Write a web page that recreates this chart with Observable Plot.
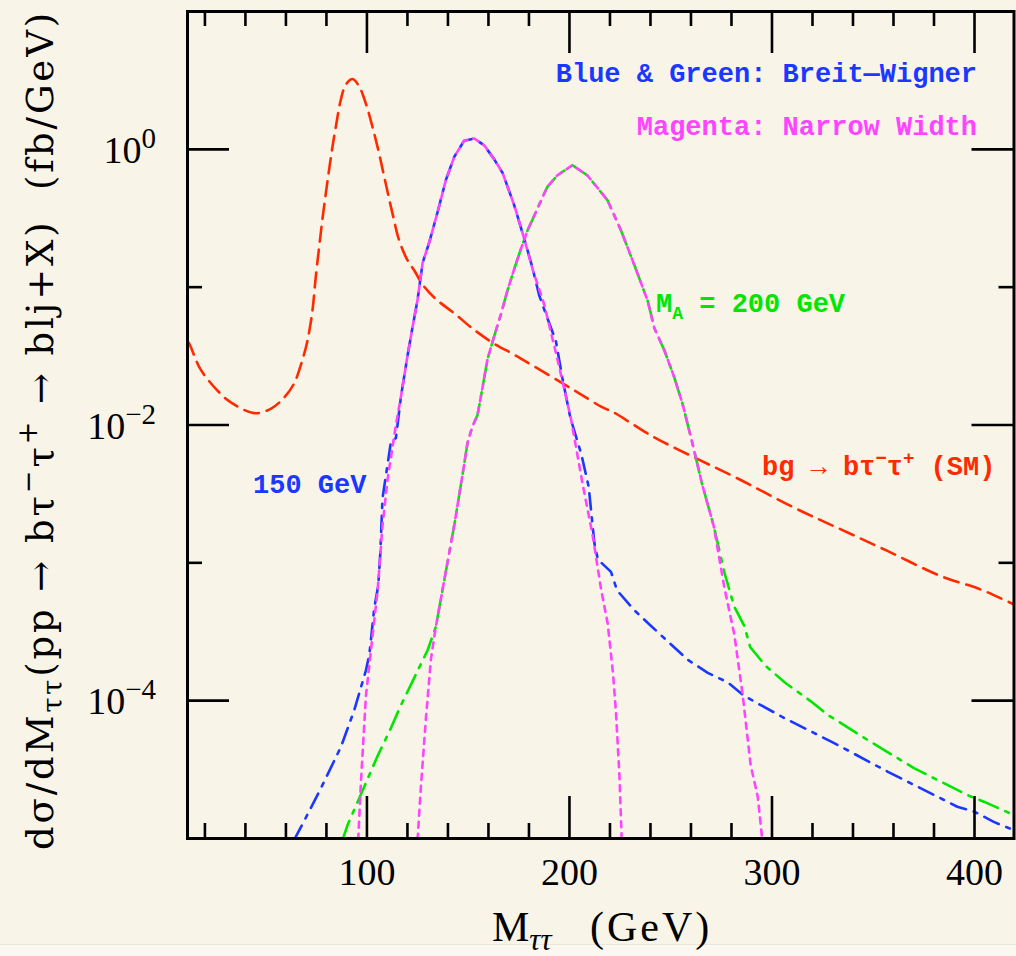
<!DOCTYPE html>
<html>
<head>
<meta charset="utf-8">
<script src="https://cdn.jsdelivr.net/npm/d3@7"></script>
<script src="https://cdn.jsdelivr.net/npm/@observablehq/plot@0.6"></script>
<style>
html, body { margin: 0; padding: 0; background: #f8f4e8; }
body { width: 1016px; height: 956px; overflow: hidden; position: relative; }
#band { position: absolute; left: 0; top: 944px; width: 1016px; height: 12px; background: #faf8f1; border-top: 1px solid #ebe6da; }
#chart { position: absolute; left: 0; top: 0; }
</style>
</head>
<body>
<div id="band"></div>
<div id="chart"></div>
<script>
// ---------------- data ----------------
// SM background bg -> b tau tau (red dashed)
const smMass = [11.4, 12.3, 18, 27.8, 32.8, 44.3, 52.5, 59.1, 64, 68.1, 70.6, 73.1, 74.7, 76.4, 78, 79.7, 81.3, 83, 84.6, 87.1, 89.6, 92.9, 96.2, 99.4, 102.7, 106, 109.3, 112.6, 115.9, 120, 123.4, 127.4, 133.2, 143.1, 153, 162.8, 172.7, 182.6, 195.8, 205.6, 215.6, 222, 240.3, 260, 282, 311, 334, 357, 383.3, 403, 416, 419.4];
const smValue = [0.0407, 0.0389, 0.0251, 0.0168, 0.0146, 0.0122, 0.0131, 0.0158, 0.0200, 0.0295, 0.0407, 0.0676, 0.1175, 0.195, 0.309, 0.479, 0.708, 1.047, 1.445, 2.291, 2.951, 3.236, 2.851, 2.163, 1.462, 0.933, 0.562, 0.343, 0.219, 0.157, 0.132, 0.105, 0.0841, 0.0646, 0.0490, 0.0389, 0.0324, 0.0266, 0.0204, 0.0167, 0.0136, 0.0123, 0.00838, 0.00597, 0.00417, 0.00251, 0.00175, 0.00122, 0.000802, 0.000641, 0.000527, 0.000501];

// Breit-Wigner, M_A = 150 GeV (blue dash-dot)
const bw150Mass = [64.1, 69.1, 77.3, 87.2, 93.8, 99.5, 101.2, 103.6, 105.6, 106.6, 107.7, 111.8, 114.3, 116.8, 120.1, 122.5, 125, 127.5, 130.8, 134.9, 139, 143.1, 148, 153, 157.9, 162.8, 167, 172.7, 177.5, 181.7, 185, 189.1, 193.3, 196.5, 200.5, 206, 209.5, 212.3, 214, 220.5, 223.5, 232.1, 240.3, 258.4, 268.3, 278.1, 286.4, 306.1, 330.7, 357, 380, 391.5, 399.7, 409.5, 419.4];
const bw150Value = [9.8e-6, 1.35e-5, 2.32e-5, 4.63e-5, 8.59e-5, 1.66e-4, 2.16e-4, 4.68e-4, 6.85e-4, 1.175e-3, 2.95e-3, 7.46e-3, 8.05e-3, 1.61e-2, 3.22e-2, 5.11e-2, 8.11e-2, 0.150, 0.212, 0.351, 0.600, 0.881, 1.156, 1.199, 1.069, 0.849, 0.673, 0.394, 0.229, 0.139, 8.77e-2, 5.96e-2, 4.06e-2, 2.19e-2, 1.12e-2, 6.03e-3, 3.55e-3, 1.39e-3, 1.06e-3, 8.59e-4, 6.31e-4, 4.52e-4, 3.48e-4, 1.98e-4, 1.59e-4, 1.36e-4, 1.08e-4, 7.48e-5, 4.92e-5, 3.06e-5, 2.07e-5, 1.70e-5, 1.57e-5, 1.32e-5, 1.15e-5];

// Narrow width, 150 GeV (magenta dotted)
const nw150Mass = [95.7, 97.0, 99.5, 102, 105.3, 107.7, 110.2, 114.3, 116.8, 120.1, 122.5, 125, 127.5, 130.8, 134.9, 139, 143.1, 148, 153, 157.9, 162.8, 167, 172.7, 177.5, 182, 187.5, 194.1, 200.7, 206.5, 211.4, 215.6, 218.9, 221.5, 223.0, 224.7, 225.8];
const nw150Value = [9.8e-6, 2.51e-5, 1.08e-4, 2.33e-4, 6.35e-4, 1.87e-3, 4.03e-3, 1.0e-2, 1.61e-2, 3.22e-2, 5.11e-2, 8.11e-2, 0.150, 0.212, 0.351, 0.600, 0.881, 1.156, 1.199, 1.069, 0.849, 0.673, 0.394, 0.229, 0.132, 7.52e-2, 2.99e-2, 1.12e-2, 3.72e-3, 1.60e-3, 6.46e-4, 3.61e-4, 1.585e-4, 8.09e-5, 2.83e-5, 9.8e-6];

// Breit-Wigner, M_A = 200 GeV (green dash-dot)
const bw200Mass = [88, 90.5, 95.4, 100.3, 105.3, 111.8, 116.8, 123.4, 130, 134, 136.5, 139.8, 143.1, 147.2, 149.7, 152.1, 154.6, 157.1, 159.5, 162.8, 166.1, 169.4, 172.7, 176, 179.3, 184.2, 189.1, 194.1, 201.5, 208.9, 218.8, 225.4, 232.1, 238.7, 241.9, 246.9, 251.8, 255.9, 260.9, 265.5, 271.2, 276.5, 281.4, 286.4, 289.2, 297, 306.5, 319.2, 327.4, 347.1, 370.1, 396.4, 404.6, 419.4];
const bw200Value = [9.8e-6, 1.26e-5, 1.84e-5, 2.70e-5, 3.98e-5, 6.31e-5, 9.27e-5, 1.47e-4, 2.33e-4, 3.43e-4, 5.45e-4, 1.01e-3, 1.87e-3, 4.36e-3, 7.46e-3, 9.77e-3, 1.18e-2, 1.88e-2, 2.99e-2, 4.39e-2, 6.31e-2, 9.46e-2, 0.135, 0.189, 0.258, 0.372, 0.535, 0.649, 0.767, 0.646, 0.427, 0.259, 0.144, 7.89e-2, 5.05e-2, 3.47e-2, 2.21e-2, 1.41e-2, 7.19e-3, 3.72e-3, 1.86e-3, 8.51e-4, 4.79e-4, 3.47e-4, 2.45e-4, 1.78e-4, 1.35e-4, 9.89e-5, 7.91e-5, 5.20e-5, 3.24e-5, 2.07e-5, 1.85e-5, 1.48e-5];

// Narrow width, 200 GeV (magenta dotted)
const nw200Mass = [125, 126.6, 129.1, 131.6, 134, 136.5, 139.8, 143.1, 147.2, 149.7, 152.1, 154.6, 157.1, 159.5, 162.8, 166.1, 169.4, 172.7, 176, 179.3, 184.2, 189.1, 194.1, 201.5, 208.9, 218.8, 225.4, 232.1, 238.7, 241.9, 246.9, 251.8, 255.9, 260.9, 265.5, 271.2, 276.5, 281.4, 285.5, 289.5, 293, 295.2];
const nw200Value = [9.8e-6, 2.32e-5, 7.36e-5, 2.00e-4, 3.43e-4, 5.45e-4, 1.01e-3, 1.87e-3, 4.36e-3, 7.46e-3, 9.77e-3, 1.18e-2, 1.88e-2, 2.99e-2, 4.39e-2, 6.31e-2, 9.46e-2, 0.135, 0.189, 0.258, 0.372, 0.535, 0.649, 0.767, 0.646, 0.427, 0.259, 0.144, 7.89e-2, 5.05e-2, 3.47e-2, 2.21e-2, 1.41e-2, 7.19e-3, 3.72e-3, 1.86e-3, 6.61e-4, 3.02e-4, 1.11e-4, 3.39e-5, 2.00e-5, 9.8e-6];

// ticks and labels
const xMajorTicks = [100, 200, 300, 400];
const xMinorTicks = [20, 40, 60, 80, 120, 140, 160, 180, 220, 240, 260, 280, 320, 340, 360, 380];
const yMajorTicks = [1, 1e-2, 1e-4];
const yMinorTicks = [1e-1, 1e-3];
const yTickExponents = ["0", "\u22122", "\u22124"];

// annotations
const plainNotes = [
  {text: "Blue & Green: Breit\u2014Wigner", m: 401.5, v: 3.03, anchor: "end", color: "blue"},
  {text: "Magenta: Narrow Width", m: 401.5, v: 1.27, anchor: "end", color: "magenta"},
  {text: "150 GeV", m: 44.0, v: 3.2e-3, anchor: "start", color: "blue"}
];
const maNote = {m: 243, v: 0.0656};
const smNote = {m: 295.3, v: 4.28e-3};

// ---------------- styling ----------------
const COLORS = {red: "#ff2a00", blue: "#1a38ff", green: "#00e600", magenta: "#ff44ff"};
const SERIF = "'Liberation Serif', 'Times New Roman', 'DejaVu Serif', serif";
const WIDESERIF = "'DejaVu Serif', 'Liberation Serif', serif";
const MONO = "'Liberation Mono', 'DejaVu Sans Mono', monospace";

const W = 1016, H = 956;
const mL = 187, mR = 2.5, mT = 11, mB = 118;
const plotW = W - mL - mR, plotH = H - mT - mB;

const rows = (ms, vs) => ms.map((m, i) => ({m, v: vs[i]}));
const sm = rows(smMass, smValue);
const bw150 = rows(bw150Mass, bw150Value);
const nw150 = rows(nw150Mass, nw150Value);
const bw200 = rows(bw200Mass, bw200Value);
const nw200 = rows(nw200Mass, nw200Value);

const chart = Plot.plot({
  width: W, height: H,
  marginLeft: mL, marginRight: mR, marginTop: mT, marginBottom: mB,
  style: {background: "transparent", color: "black", overflow: "visible"},
  x: {domain: [11.4, 419.5], axis: null},
  y: {type: "log", domain: [1e-5, 10], axis: null},
  marks: [
    Plot.line(sm, {x: "m", y: "v", stroke: COLORS.red, strokeWidth: 2.6, strokeDasharray: "15,8", curve: "catmull-rom", clip: true}),
    Plot.line(bw200, {x: "m", y: "v", stroke: COLORS.green, strokeWidth: 2.6, strokeDasharray: "20,8,4,8", clip: true}),
    Plot.line(bw150, {x: "m", y: "v", stroke: COLORS.blue, strokeWidth: 2.6, strokeDasharray: "16,8,4,8", clip: true}),
    Plot.line(nw150, {x: "m", y: "v", stroke: COLORS.magenta, strokeWidth: 2.6, strokeDasharray: "6,6", clip: true}),
    Plot.line(nw200, {x: "m", y: "v", stroke: COLORS.magenta, strokeWidth: 2.6, strokeDasharray: "6,6", clip: true}),
    // inward ticks: bottom & top
    Plot.tickX(xMajorTicks, {x: d => d, insetTop: plotH - 42, strokeWidth: 2.6}),
    Plot.tickX(xMinorTicks, {x: d => d, insetTop: plotH - 15, strokeWidth: 2.6}),
    Plot.tickX(xMajorTicks, {x: d => d, insetBottom: plotH - 42, strokeWidth: 2.6}),
    Plot.tickX(xMinorTicks, {x: d => d, insetBottom: plotH - 15, strokeWidth: 2.6}),
    // inward ticks: left & right
    Plot.tickY(yMajorTicks, {y: d => d, insetRight: plotW - 42, strokeWidth: 2.6}),
    Plot.tickY(yMinorTicks, {y: d => d, insetRight: plotW - 15, strokeWidth: 2.6}),
    Plot.tickY(yMajorTicks, {y: d => d, insetLeft: plotW - 42, strokeWidth: 2.6}),
    Plot.tickY(yMinorTicks, {y: d => d, insetLeft: plotW - 15, strokeWidth: 2.6}),
    Plot.axisX(xMajorTicks, {tickSize: 0, tickPadding: 20, fontSize: 38, fontFamily: SERIF, tickFormat: d => String(d), fill: "black", label: null}),
    Plot.frame({stroke: "black", strokeWidth: 3})
  ]
});

document.getElementById("chart").append(chart);

const svg = d3.select(chart);
const xs = chart.scale("x"), ys = chart.scale("y");

// y tick labels with superscript exponents
yMajorTicks.forEach((v, i) => {
  const t = svg.append("text")
    .attr("x", 156).attr("y", ys.apply(v) + 14)
    .attr("text-anchor", "end").attr("font-family", SERIF).attr("font-size", 38).attr("fill", "black");
  t.append("tspan").text("10");
  t.append("tspan").attr("dy", -15).attr("font-size", 29).text(yTickExponents[i]);
});

// plain annotations
plainNotes.forEach(n => {
  svg.append("text")
    .attr("x", xs.apply(n.m)).attr("y", ys.apply(n.v))
    .attr("text-anchor", n.anchor).attr("font-family", MONO).attr("font-weight", "bold")
    .attr("font-size", 27).attr("fill", COLORS[n.color]).text(n.text);
});

// M_A = 200 GeV
{
  const t = svg.append("text")
    .attr("x", xs.apply(maNote.m)).attr("y", ys.apply(maNote.v)).attr("text-anchor", "start")
    .attr("font-family", MONO).attr("font-weight", "bold").attr("font-size", 27).attr("fill", COLORS.green)
    .style("white-space", "pre");
  t.append("tspan").text("M");
  t.append("tspan").attr("dy", 7).attr("font-size", 18).text("A");
  t.append("tspan").attr("dy", -7).text(" = 200 GeV");
}
// bg -> b tau- tau+ (SM)
{
  const t = svg.append("text")
    .attr("x", xs.apply(smNote.m)).attr("y", ys.apply(smNote.v)).attr("text-anchor", "start")
    .attr("font-family", MONO).attr("font-weight", "bold").attr("font-size", 27).attr("fill", COLORS.red)
    .style("white-space", "pre");
  t.append("tspan").text("bg \u2192 b\u03c4");
  t.append("tspan").attr("dy", -11).attr("font-size", 19).text("\u2212");
  t.append("tspan").attr("dy", 11).text("\u03c4");
  t.append("tspan").attr("dy", -11).attr("font-size", 19).text("+");
  t.append("tspan").attr("dy", 11).text(" (SM)");
}

// x-axis title: M_tautau (GeV)
{
  const t = svg.append("text").attr("x", 492).attr("y", 941).attr("text-anchor", "start")
    .attr("font-family", SERIF).attr("font-size", 42).attr("fill", "black").style("white-space", "pre");
  t.append("tspan").text("M");
  t.append("tspan").attr("dy", 9).attr("font-size", 31).attr("font-style", "italic").text("\u03c4\u03c4");
  t.append("tspan").attr("dy", -9).attr("x", 590).attr("letter-spacing", 3).text("(GeV)");
}

// y-axis title (rotated)
{
  const t = svg.append("text")
    .attr("transform", "translate(53,850) rotate(-90)").attr("text-anchor", "start")
    .attr("font-family", WIDESERIF).attr("font-size", 37).attr("fill", "black").style("white-space", "pre");
  const parts = [
    ["d\u03c3/dM", 0, null],
    ["\u03c4\u03c4", 9, 27],
    ["(pp \u2192 b\u03c4", -9, null],
    ["\u2212", -16, 27],
    ["\u03c4", 16, null],
    ["+", -16, 27],
    [" \u2192 blj+X)  (fb/GeV)", 16, null]
  ];
  let n = 0;
  parts.forEach(([s, dy, fs]) => {
    const sp = t.append("tspan").text(s);
    if (dy) sp.attr("dy", dy);
    if (fs) sp.attr("font-size", fs);
    n += s.length;
  });
  const len = t.node().getComputedTextLength();
  const target = 840;
  t.attr("letter-spacing", ((target - len) / n).toFixed(2));
}
</script>
</body>
</html>
